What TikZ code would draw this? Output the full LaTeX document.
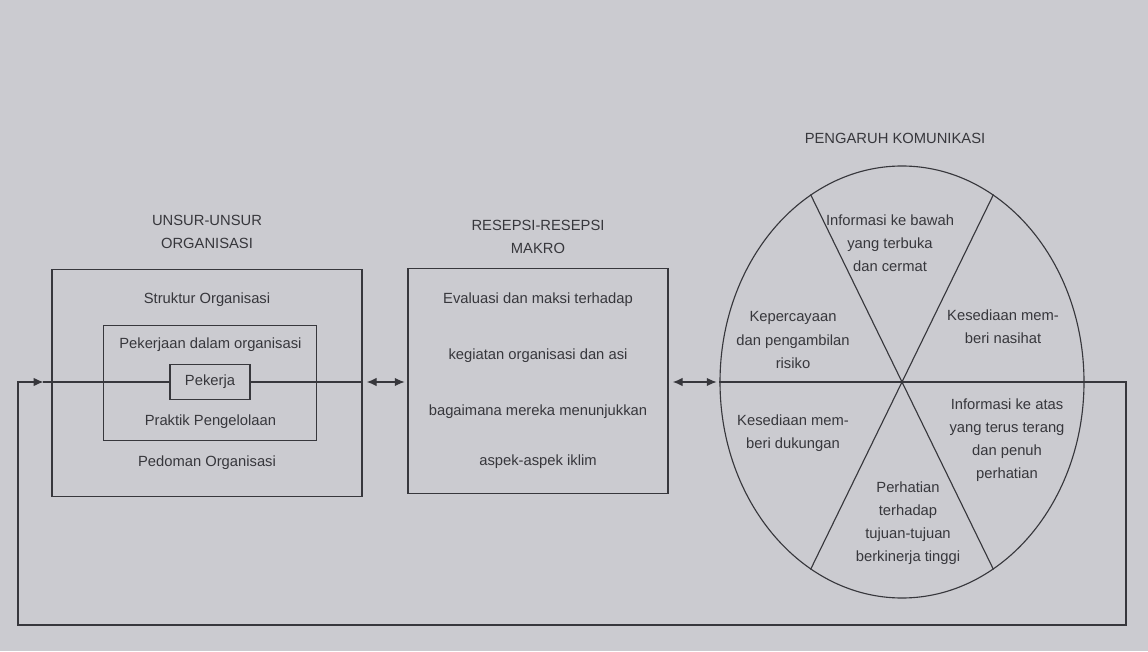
\documentclass[tikz,border=0pt]{standalone}
\usepackage{fontspec}
\setmainfont{Liberation Sans}
\usepackage{xcolor}
\usetikzlibrary{arrows.meta,shapes.geometric}
\definecolor{paper}{RGB}{203,203,208}
\definecolor{ink}{RGB}{55,55,60}

\begin{document}
\begin{tikzpicture}[>={Latex[length=7pt,width=6pt]},line width=0.8pt,color=ink,
  font={\fontsize{10.5pt}{16.5pt}\selectfont},
  txt/.style={align=center,inner sep=1pt},
  box/.style={draw,inner sep=0pt}]
\fill[paper] (0,0) rectangle (28.7,16.275);
\useasboundingbox (0,0) rectangle (28.7,16.275);
\node[box,minimum width=7.75cm,minimum height=5.675cm] (unsur) at (5.175,6.69) {};
\node[box,minimum width=5.325cm,minimum height=2.875cm] (kerja) at (5.26,6.71) {};
\node[box,minimum width=2cm,minimum height=0.875cm] (pekerja) at (5.25,6.725) {Pekerja};
\node[box,minimum width=6.5cm,minimum height=5.625cm] (makro) at (13.45,6.74) {};
\node[draw,ellipse,minimum width=9.1cm,minimum height=10.8cm,inner sep=0pt] (pie) at (22.55,6.725) {};
\node[txt] (judul1) at (5.175,10.475) {UNSUR-UNSUR\\ORGANISASI};
\node[txt] (judul2) at (13.45,10.35) {RESEPSI-RESEPSI\\MAKRO};
\node[txt] (judul3) at (22.375,12.825) {PENGARUH KOMUNIKASI};
\node[txt] (struktur) at (5.175,8.775) {Struktur Organisasi};
\node[txt] (dalam) at (5.26,7.65) {Pekerjaan dalam organisasi};
\node[txt] (praktik) at (5.26,5.725) {Praktik Pengelolaan};
\node[txt] (pedoman) at (5.175,4.7) {Pedoman Organisasi};
\node[txt] (m1) at (13.45,8.775) {Evaluasi dan maksi terhadap};
\node[txt] (m2) at (13.45,7.375) {kegiatan organisasi dan asi};
\node[txt] (m3) at (13.45,5.975) {bagaimana mereka menunjukkan};
\node[txt] (m4) at (13.45,4.725) {aspek-aspek iklim};
\node[txt] (s1) at (22.25,10.2) {Informasi ke bawah\\yang terbuka\\dan cermat};
\node[txt] (s2) at (25.075,8.1) {Kesediaan mem-\\beri nasihat};
\node[txt] (s3) at (19.825,7.775) {Kepercayaan\\dan pengambilan\\risiko};
\node[txt] (s4) at (19.825,5.45) {Kesediaan mem-\\beri dukungan};
\node[txt] (s5) at (25.175,5.275) {Informasi ke atas\\yang terus terang\\dan penuh\\perhatian};
\node[txt] (s6) at (22.7,3.2) {Perhatian\\terhadap\\tujuan-tujuan\\berkinerja tinggi};
\draw (pie.116) -- (pie.296);
\draw (pie.64) -- (pie.244);
\coordinate (fb1) at (28.15,6.725);
\coordinate (fb2) at (28.15,0.65);
\coordinate (fb3) at (0.45,0.65);
\coordinate (fb4) at (0.45,6.725);
\coordinate (fbin) at ([xshift=-0.2cm]pekerja.west -| unsur.west);
\draw (fbin) -- (pekerja.west);
\draw (pekerja.east) -- (pekerja.east -| unsur.east);
\draw[<->,shorten <=3pt,shorten >=2pt] (pekerja.east -| unsur.east) -- (pekerja.east -| makro.west);
\draw[<->,shorten <=3pt,shorten >=2pt] (pekerja.east -| makro.east) -- (pie.west);
\draw[->] (pie.west) -- (fb1) -- (fb2) -- (fb3) -- (fb4) -- (fbin);
\end{tikzpicture}
\end{document}
